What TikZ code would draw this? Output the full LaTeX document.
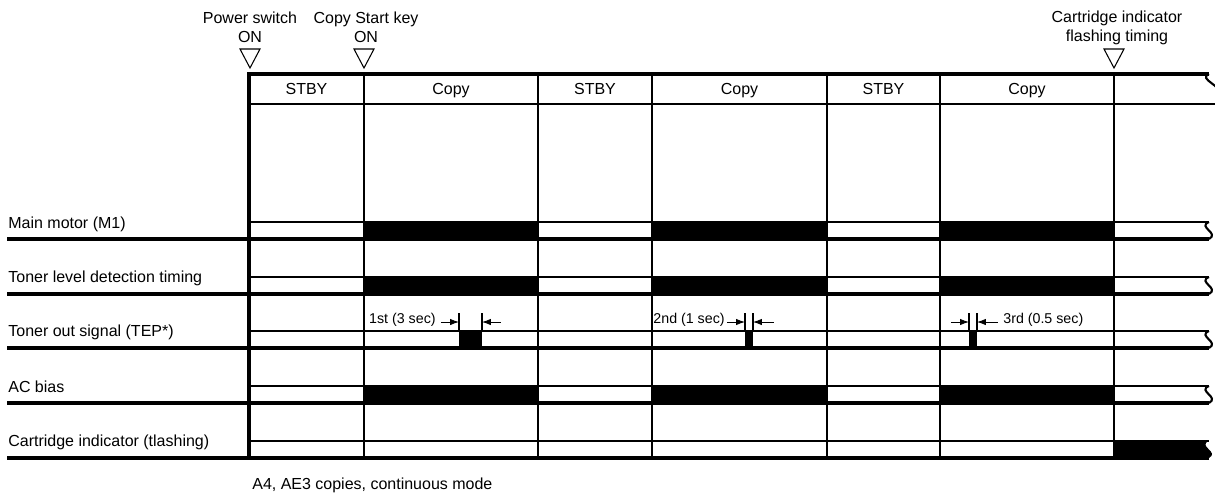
\documentclass[tikz,border=0pt]{standalone}
\usepackage{fontspec}
\setmainfont{Liberation Sans}
\usepackage{tkz-euclide}
\usetikzlibrary{arrows.meta}
\definecolor{BarClr}{rgb}{0,0,0}
\tikzset{
  trig/.style={line width=.6pt},
  dimarrow/.style={line width=.5pt,-{Latex[length=5pt,width=3.6pt]}},
  brk/.style={line width=1.2pt},
  lbl/.style={anchor=west,inner sep=0pt},
  cell/.style={anchor=base,inner sep=0pt},
  small/.style={inner sep=0pt,font=\fontsize{8.1}{10}\selectfont},
  thinline/.style={line width=.6pt},
  sigtop/.style={line width=1.1pt},
  rowline/.style={line width=2pt},
  frameline/.style={line width=2pt}
}

\begin{document}
\begin{tikzpicture}[scale=.2,font=\fontsize{9.1}{10.8}\selectfont]
\useasboundingbox (0,0) rectangle (121.5,49.5);

% frame
\tkzDefPoints{24.9/42.1/F1,120.9/42.1/F2,24.9/3.7/F3,24.9/39.1/H1,121.5/39.1/H2}
% column lines
\tkzDefPoints{36.4/42.1/A1,53.8/42.1/A2,65.2/42.1/A3,82.7/42.1/A4,94/42.1/A5,111.4/42.1/A6}
\tkzDefPoints{36.4/3.7/B1,53.8/3.7/B2,65.2/3.7/B3,82.7/3.7/B4,94/3.7/B5,111.4/3.7/B6}
% signal rows
\tkzDefPoints{24.9/27.3/U1,24.9/21.8/U2,24.9/16.4/U3,24.9/10.9/U4,24.9/5.4/U5}
\tkzDefPoints{120.9/27.3/V1,120.9/21.8/V2,120.9/16.4/V3,120.9/10.9/V4,120.9/5.4/V5}
\tkzDefPoints{.75/25.6/L1,.75/20.1/L2,.75/14.7/L3,.75/9.2/L4,.75/3.7/L5}
\tkzDefPoints{120.9/25.6/R1,120.9/20.1/R2,120.9/14.7/R3,120.9/9.2/R4,120.9/3.7/R5}
% toner out marks
\tkzDefPoints{44.1/17.3/S1,45.9/17.3/E1,50.1/17.3/S2,48.2/17.3/E2}
\tkzDefPoints{72.7/17.3/S3,74.5/17.3/E3,77.4/17.3/S4,75.3/17.3/E4}
\tkzDefPoints{95.1/17.3/S5,96.9/17.3/E5,99.8/17.3/S6,97.7/17.3/E6}

% signal bars
\fill[BarClr] (36.4,25.6) rectangle (53.8,27.3);
\fill[BarClr] (65.2,25.6) rectangle (82.7,27.3);
\fill[BarClr] (94,25.6) rectangle (111.4,27.3);
\fill[BarClr] (36.4,20.1) rectangle (53.8,21.8);
\fill[BarClr] (65.2,20.1) rectangle (82.7,21.8);
\fill[BarClr] (94,20.1) rectangle (111.4,21.8);
\fill[BarClr] (36.4,9.2) rectangle (53.8,10.9);
\fill[BarClr] (65.2,9.2) rectangle (82.7,10.9);
\fill[BarClr] (94,9.2) rectangle (111.4,10.9);
\fill[BarClr] (45.9,14.7) rectangle (48.2,16.4);
\fill[BarClr] (74.5,14.7) rectangle (75.3,16.4);
\fill[BarClr] (96.9,14.7) rectangle (97.7,16.4);
\fill[BarClr] (111.4,3.7) -- (111.4,5.4) -- (V5) .. controls +(-1.2,-.5) and +(1.1,.6) .. (R5) -- cycle;

\draw[thinline] (A1) -- (B1) (A2) -- (B2) (A3) -- (B3) (A4) -- (B4) (A5) -- (B5) (A6) -- (B6);
\draw[sigtop] (H1) -- (H2) (U1) -- (V1) (U2) -- (V2) (U3) -- (V3) (U4) -- (V4) (U5) -- (V5);
\draw[rowline] (L1) -- (R1) (L2) -- (R2) (L3) -- (R3) (L4) -- (R4) (L5) -- (R5);
\draw[frameline] (F2) -- (F1) -- (F3);

% break marks
\draw[brk] (F2) .. controls +(-1.2,-.5) and +(.8,.6) .. (121.7,40.2);
\draw[brk] (V1) .. controls +(-1.2,-.5) and +(1.1,.6) .. (R1);
\draw[brk] (V2) .. controls +(-1.2,-.5) and +(1.1,.6) .. (R2);
\draw[brk] (V3) .. controls +(-1.2,-.5) and +(1.1,.6) .. (R3);
\draw[brk] (V4) .. controls +(-1.2,-.5) and +(1.1,.6) .. (R4);

% timing triangles
\draw[trig] (24,44.6) -- (26,44.6) -- (25,42.7) -- cycle;
\draw[trig] (35.4,44.6) -- (37.4,44.6) -- (36.4,42.7) -- cycle;
\draw[trig] (110.4,44.6) -- (112.4,44.6) -- (111.4,42.7) -- cycle;
\node[align=center] (pwon) at (25,46.75) {Power switch\\ON};
\node[align=center] (cpon) at (36.6,46.75) {Copy Start key\\ON};
\node[align=center] (crfl) at (111.7,46.75) {Cartridge indicator\\flashing timing};

% header
\node[cell] (st1) at (30.65,40.1) {STBY};
\node[cell] (cp1) at (45.1,40.1) {Copy};
\node[cell] (st2) at (59.5,40.1) {STBY};
\node[cell] (cp2) at (73.95,40.1) {Copy};
\node[cell] (st3) at (88.35,40.1) {STBY};
\node[cell] (cp3) at (102.7,40.1) {Copy};

% row names
\node[lbl] (mm) at (.8,27.1) {Main motor (M1)};
\node[lbl] (tl) at (.8,21.7) {Toner level detection timing};
\node[lbl] (to) at (.8,16.3) {Toner out signal (TEP*)};
\node[lbl] (ac) at (.8,10.8) {AC bias};
\node[lbl] (ci) at (.8,5.3) {Cartridge indicator (tlashing)};

% toner out widths
\draw[thinline] (45.9,16.4) -- (45.9,18.2) (48.2,16.4) -- (48.2,18.2);
\draw[thinline] (74.5,16.4) -- (74.5,18.2) (75.3,16.4) -- (75.3,18.2);
\draw[thinline] (96.9,16.4) -- (96.9,18.2) (97.7,16.4) -- (97.7,18.2);
\draw[dimarrow] (S1) -- (E1);
\draw[dimarrow] (S2) -- (E2);
\draw[dimarrow] (S3) -- (E3);
\draw[dimarrow] (S4) -- (E4);
\draw[dimarrow] (S5) -- (E5);
\draw[dimarrow] (S6) -- (E6);
\node[small,anchor=east] (t1) at (43.6,17.5) {1st (3 sec)};
\node[small,anchor=east] (t2) at (72.5,17.5) {2nd (1 sec)};
\node[small,anchor=west] (t3) at (100.3,17.5) {3rd (0.5 sec)};

\node[lbl] (note) at (25.2,1) {A4, AE3 copies, continuous mode};
\end{tikzpicture}
\end{document}
